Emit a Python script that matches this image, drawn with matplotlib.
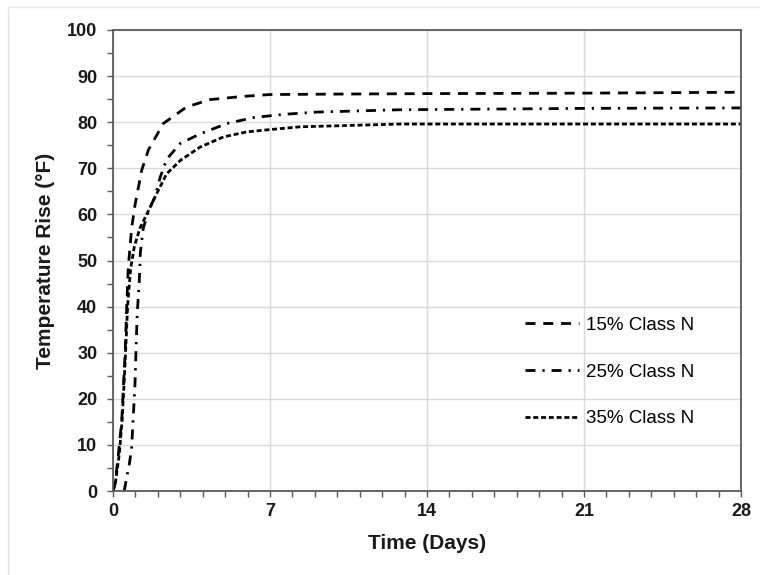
import numpy as np
import matplotlib.pyplot as plt
from matplotlib.ticker import MultipleLocator
from matplotlib.patches import Rectangle

plt.rcParams['font.family'] = ['Liberation Sans', 'DejaVu Sans']

# ===== data =====
t15 = [0.0, 0.09, 0.24, 0.39, 0.46, 0.54, 0.61, 0.68, 0.83, 0.98, 1.28, 1.58, 2.24, 3.28, 4.32, 5.8, 7.0, 10.0, 14.0, 21.0, 28.0]
v15 = [0.0, 1.5, 8.0, 15.2, 22.5, 29.7, 39.9, 48.5, 57.0, 62.0, 69.6, 74.0, 79.7, 83.3, 84.9, 85.6, 86.0, 86.1, 86.2, 86.3, 86.5]

t25 = [0.5, 0.61, 0.74, 0.83, 0.91, 0.98, 1.03, 1.08, 1.17, 1.22, 1.35, 1.6, 1.87, 2.1, 2.4, 3.0, 3.9, 5.07, 6.26, 7.6, 9.1, 12.8, 21.0, 28.0]
v25 = [0.0, 2.9, 6.2, 9.4, 16.7, 23.2, 31.2, 38.5, 45.3, 51.8, 57.0, 61.0, 63.8, 68.0, 72.0, 75.4, 77.5, 79.7, 81.0, 81.7, 82.2, 82.7, 83.0, 83.1]

t35 = [0.0, 0.1, 0.28, 0.4, 0.48, 0.56, 0.65, 0.78, 0.95, 1.2, 1.5, 2.0, 2.39, 3.0, 3.88, 4.92, 5.96, 7.0, 8.34, 12.8, 21.0, 28.0]
v35 = [0.0, 1.5, 8.0, 15.0, 22.0, 30.0, 40.0, 48.0, 53.0, 57.0, 60.0, 65.0, 68.8, 71.7, 74.6, 76.8, 77.9, 78.4, 79.0, 79.6, 79.6, 79.6]

labels = ['15% Class N', '25% Class N', '35% Class N']

# ===== figure =====
fig = plt.figure(figsize=(7.6, 5.75), dpi=100)
ax = fig.add_axes([113/760, 1 - 491/575, (741-113)/760, (491-30)/575])

# outer light frame
fig.patches.append(Rectangle((8/760, -0.01), 1.0, 1 - 7/575 + 0.01, transform=fig.transFigure,
                             fill=False, edgecolor='#e6e6e6', lw=1, clip_on=False))

lw = 2.0
ax.plot(t15, v15, color='black', lw=lw, dashes=(3.6, 2.8), label=labels[0])
ax.plot(t25, v25, color='black', lw=lw, dashes=(3.6, 2.5, 0.8, 2.5), label=labels[1])
ax.plot(t35, v35, color='black', lw=lw, dashes=(1.8, 1.0), label=labels[2])

ax.set_xlim(0, 28)
ax.set_ylim(0, 100)
ax.xaxis.set_major_locator(MultipleLocator(7))
ax.xaxis.set_minor_locator(MultipleLocator(1))
ax.yaxis.set_major_locator(MultipleLocator(10))
ax.yaxis.set_minor_locator(MultipleLocator(5))

ax.grid(True, which='major', color='#d9d9d9', lw=1)
ax.set_axisbelow(True)

for s in ax.spines.values():
    s.set_color('#595959')
    s.set_linewidth(1.3)

ax.tick_params(which='both', direction='out', length=4.3, width=1, color='#595959',
               labelsize=13, labelcolor='#1a1a1a')
ax.tick_params(axis='x', pad=4.3)
ax.tick_params(axis='y', pad=7)
for lab in ax.get_xticklabels() + ax.get_yticklabels():
    lab.set_fontweight('bold')

ax.set_xlabel('Time (Days)', fontsize=15, fontweight='bold', labelpad=10, color='#1a1a1a')
ax.set_ylabel('Temperature Rise (°F)', fontsize=15, fontweight='bold', labelpad=9, color='#1a1a1a')

leg = ax.legend(loc='center left', bbox_to_anchor=((525-113)/628, (491-372)/461), frameon=False,
                fontsize=13.5, handlelength=2.9, labelspacing=1.57, handletextpad=0.37,
                borderpad=0, borderaxespad=0)

fig.savefig('out.png', dpi=100)
